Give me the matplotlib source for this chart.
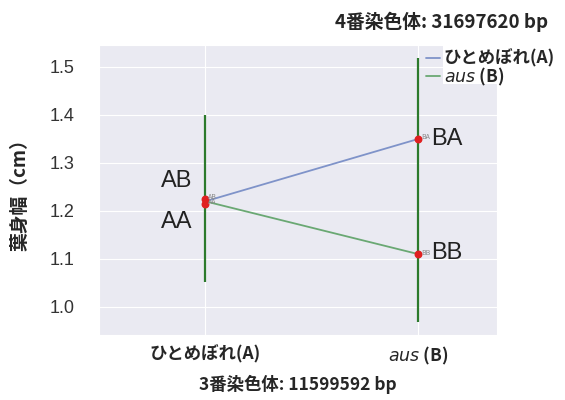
import matplotlib
matplotlib.use('Agg')
import matplotlib.pyplot as plt
import matplotlib.patches as mpatches
import seaborn as sns

sns.set_style('darkgrid')
plt.rcParams['font.family'] = ['Noto Sans CJK JP', 'DejaVu Sans']
latin = ['Liberation Sans', 'DejaVu Sans']

# genotype means at the two loci
x_pos = [0, 1]
x_labels = ['ひとめぼれ(A)', r'$\it{aus}$ (B)']
genotypes = ['AA', 'AB', 'BA', 'BB']
geno_x = [0, 0, 1, 1]
geno_y = [1.215, 1.225, 1.35, 1.11]
line_a = [1.22, 1.35]   # ひとめぼれ(A) at chr4
line_b = [1.22, 1.11]   # aus (B) at chr4
# spread of each parent group
range_x = [0, 1]
range_lo = [1.052, 0.969]
range_hi = [1.40, 1.519]

fig = plt.figure(figsize=(5.65, 4.0), dpi=100)
ax = fig.add_axes([0.175, 0.163, 0.705, 0.725])

ax.vlines(range_x, range_lo, range_hi, color='#2c7a2c', lw=1.6, zorder=2)
ax.plot(x_pos, line_a, color='#7f93c9', lw=1.3, label='ひとめぼれ(A)', zorder=3)
ax.plot(x_pos, line_b, color='#6aa873', lw=1.3, label=r'$\it{aus}$ (B)', zorder=3)
ax.scatter(geno_x, geno_y, color='#e02020', s=22, zorder=4)

for g, gx, gy in zip(genotypes, geno_x, geno_y):
    ax.text(gx + 0.012, gy + 0.003, g, fontsize=5, color='#888888', va='center', zorder=5)

ax.text(-0.062, 1.262, 'AB', fontsize=17, ha='right', va='center', family=latin, color='#222222')
ax.text(-0.062, 1.177, 'AA', fontsize=17, ha='right', va='center', family=latin, color='#222222')
ax.text(1.062, 1.35, 'BA', fontsize=17, ha='left', va='center', family=latin, color='#222222')
ax.text(1.062, 1.112, 'BB', fontsize=17, ha='left', va='center', family=latin, color='#222222')

ax.set_xlim(-0.5, 1.37)
ax.set_ylim(0.942, 1.546)
ax.set_yticks([1.0, 1.1, 1.2, 1.3, 1.4, 1.5])
ax.tick_params(axis='y', labelsize=13, colors='#333333', pad=14)
for t in ax.get_yticklabels():
    t.set_family(latin)
ax.set_xticks(x_pos)
ax.set_xticklabels(x_labels, fontsize=12.5, fontweight='bold')
ax.tick_params(axis='x', pad=4)
ax.set_ylabel('葉身幅（cm）', fontsize=13.5, fontweight='bold')
ax.yaxis.set_label_coords(-0.198, 0.5)
ax.set_xlabel('3番染色体: 11599592 bp', fontsize=12.5, fontweight='bold')
ax.xaxis.set_label_coords(0.5, -0.172)
ax.xaxis.label.set_va('center')
ax.yaxis.label.set_va('center')
fig.text(0.97, 0.945, '4番染色体: 31697620 bp', fontsize=13.5, fontweight='bold',
         ha='right', va='center')

# white backing behind the legend text
ax.add_patch(mpatches.Rectangle((443 / 565, 1 - 84 / 400), 0.2, 40 / 400,
                                transform=fig.transFigure, facecolor='white',
                                edgecolor='none', zorder=4.5, clip_on=False))
leg = ax.legend(loc='upper left', bbox_to_anchor=(0.80, 1.015), fontsize=12.5, frameon=False,
                handlelength=0.8, handletextpad=0.2, borderpad=0.0, labelspacing=-0.1)
for t in leg.get_texts():
    t.set_fontweight('bold')
leg.set_zorder(5)

fig.savefig('out.png', dpi=100)
